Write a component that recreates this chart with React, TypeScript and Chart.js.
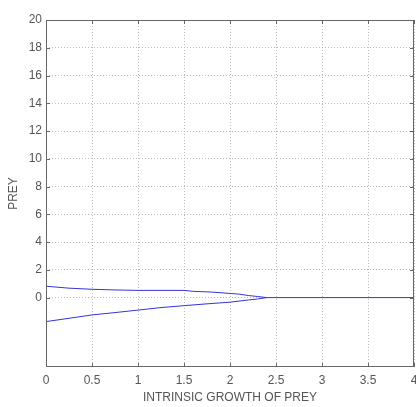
import React, { useEffect, useRef } from "react";
import { Chart, registerables } from "chart.js";

Chart.register(...registerables);

const upperX = [0, 0.25, 0.5, 0.75, 1, 1.25, 1.5, 1.6, 1.8, 2, 2.1, 2.2, 2.3, 2.4];
const upperY = [0.82, 0.68, 0.6, 0.55, 0.52, 0.52, 0.52, 0.45, 0.4, 0.3, 0.25, 0.15, 0.08, 0];
const lowerX = [0, 0.25, 0.5, 0.75, 1, 1.25, 1.5, 1.75, 2, 2.2, 2.3, 2.4];
const lowerY = [-1.73, -1.49, -1.25, -1.08, -0.9, -0.72, -0.58, -0.45, -0.33, -0.17, -0.1, 0];
const tailX = [2.4, 4];
const tailY = [0, 0];
const xTicks = [0, 0.5, 1, 1.5, 2, 2.5, 3, 3.5, 4];
const yTicks = [0, 2, 4, 6, 8, 10, 12, 14, 16, 18, 20];

const LINE = "#3535d0";
const TXT = "#555555";

const pts = (xs: number[], ys: number[]) => xs.map((x, i) => ({ x, y: ys[i] }));

const framePlugin = {
  id: "frame",
  afterDraw(chart: any) {
    const { ctx, chartArea } = chart;
    const { left, right, top, bottom } = chartArea;
    const xs = chart.scales.x;
    const ys = chart.scales.y;
    ctx.save();
    ctx.strokeStyle = "#666666";
    ctx.lineWidth = 1;
    ctx.strokeRect(left + 0.5, top + 0.5, right - left - 1, bottom - top - 1);
    ctx.beginPath();
    xTicks.forEach((v) => {
      const px = Math.round(xs.getPixelForValue(v)) + 0.5;
      ctx.moveTo(px, bottom);
      ctx.lineTo(px, bottom - 4);
      ctx.moveTo(px, top);
      ctx.lineTo(px, top + 4);
    });
    yTicks.forEach((v) => {
      const py = Math.round(ys.getPixelForValue(v)) + 0.5;
      ctx.moveTo(left, py);
      ctx.lineTo(left + 4, py);
      ctx.moveTo(right, py);
      ctx.lineTo(right - 4, py);
    });
    ctx.stroke();
    ctx.fillStyle = TXT;
    ctx.font = "12px 'Liberation Sans', Arial, sans-serif";
    ctx.textAlign = "center";
    ctx.textBaseline = "middle";
    ctx.fillText("INTRINSIC GROWTH OF PREY", (left + right) / 2, 398);
    ctx.translate(14, (top + bottom) / 2);
    ctx.rotate(-Math.PI / 2);
    ctx.fillText("PREY", 0, 0);
    ctx.restore();
  },
};

export default function App() {
  const ref = useRef<HTMLCanvasElement>(null);
  useEffect(() => {
    document.body.style.margin = "0";
    const ds = (xs: number[], ys: number[]) => ({
      data: pts(xs, ys),
      borderColor: LINE,
      borderWidth: 1,
      pointRadius: 0,
      fill: false,
      tension: 0,
    });
    const chart = new Chart(ref.current!, {
      type: "line",
      data: { datasets: [ds(upperX, upperY), ds(lowerX, lowerY), ds(tailX, tailY)] as any },
      options: {
        animation: false,
        responsive: false,
        layout: { padding: { left: 0, right: 10, top: 20, bottom: 0 } },
        plugins: { legend: { display: false }, tooltip: { enabled: false } },
        scales: {
          x: {
            type: "linear",
            min: 0,
            max: 4,
            afterBuildTicks: (s: any) => {
              s.ticks = xTicks.map((v) => ({ value: v }));
            },
            afterFit: (s: any) => {
              s.height = 40;
            },
            ticks: {
              color: TXT,
              font: { family: "'Liberation Sans', Arial, sans-serif", size: 12 },
              padding: 6,
              maxRotation: 0,
              callback: (v: any) => String(v),
            },
            grid: { color: "#bbbbbb", drawTicks: false, tickLength: 0 },
            border: { display: false, dash: [1, 2] } as any,
          },
          y: {
            type: "linear",
            min: -5,
            max: 20,
            afterBuildTicks: (s: any) => {
              s.ticks = yTicks.map((v) => ({ value: v }));
            },
            afterFit: (s: any) => {
              s.width = 46;
            },
            ticks: {
              color: TXT,
              font: { family: "'Liberation Sans', Arial, sans-serif", size: 12 },
              padding: 4,
              callback: (v: any) => String(v),
            },
            grid: { color: "#bbbbbb", drawTicks: false, tickLength: 0 },
            border: { display: false, dash: [1, 2] } as any,
          },
        },
      },
      plugins: [framePlugin],
    });
    return () => chart.destroy();
  }, []);
  return (
    <div style={{ position: "fixed", left: 0, top: 0, width: 416, height: 407, overflow: "hidden", background: "#fff" }}>
      <canvas ref={ref} width={424} height={407} />
    </div>
  );
}
